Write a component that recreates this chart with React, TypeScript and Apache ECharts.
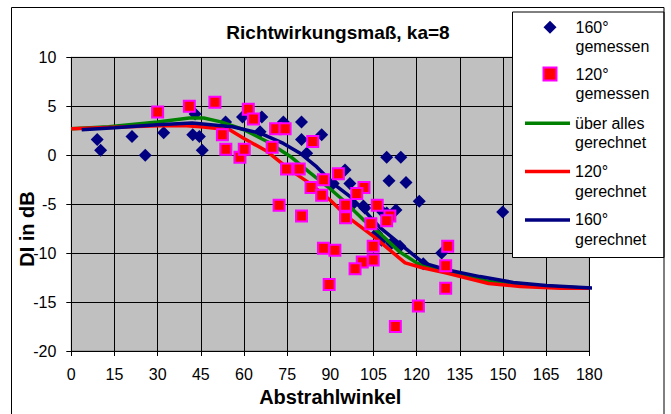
import React, { useEffect, useRef } from "react";
import * as echarts from "echarts";

// Measured 160° (diamonds): [angle, DI]
const measured160: [number, number][] = [
  [9.0, 1.6], [10.2, 0.5], [21.1, 1.9], [25.7, 0.0], [32.1, 2.3], [42.2, 2.1],
  [44.5, 1.9], [45.5, 0.5], [43.0, 4.2], [53.6, 3.4], [59.5, 3.9], [66.2, 3.9],
  [65.6, 2.4], [73.7, 3.4], [80.0, 3.4], [80.0, 1.6], [87.0, 2.1], [81.8, 0.2],
  [95.1, -1.5], [96.8, -2.9], [91.0, -2.9], [101.5, -5.2], [97.4, -5.1], [102.0, -5.4],
  [108.2, -5.8], [109.6, -5.9], [106.1, -8.0], [111.3, -9.0], [107.8, -8.7], [114.2, -9.3],
  [122.3, -11.1], [128.7, -10.0], [112.8, -5.6], [109.6, -0.2], [114.5, -0.2], [110.4, -2.6],
  [116.3, -2.8], [120.9, -4.7], [149.9, -5.8],
];

// Measured 120° (squares)
const measured120: [number, number][] = [
  [30.0, 4.4], [41.0, 5.0], [49.9, 5.4], [61.5, 4.7], [63.3, 3.7], [52.5, 2.1],
  [53.7, 0.6], [58.6, -0.2], [60.1, 0.6], [71.0, 2.7], [74.3, 2.7], [69.8, 0.8],
  [83.9, 1.4], [74.8, -1.4], [79.2, -1.4], [87.6, -2.5], [92.8, -1.9], [83.3, -3.3],
  [87.0, -4.1], [101.7, -3.3], [99.2, -3.9], [95.3, -5.1], [95.3, -6.4], [106.3, -5.1],
  [104.1, -7.0], [110.7, -6.2], [109.6, -6.7], [72.2, -5.1], [80.0, -6.2], [87.6, -9.5],
  [91.6, -9.7], [89.6, -13.2], [104.9, -9.3], [104.9, -10.7], [101.1, -10.9], [98.6, -11.6],
  [112.6, -17.5], [130.8, -9.3], [130.1, -11.3], [130.1, -13.6], [120.6, -15.4],
];

// Computed curves
const calcAll: [number, number][] = [
  [0, 2.7], [13, 2.9], [30, 3.4], [41, 3.8], [46, 3.8], [52, 3.4], [60, 2.6], [68, 1.4],
  [76, -0.1], [83, -1.8], [89, -3.2], [94.5, -4.6], [101.5, -6.6], [107.3, -8.0], [114, -9.85],
  [120, -11.0], [130, -11.9], [145, -12.9], [160, -13.3], [180, -13.6],
];
const calc120: [number, number][] = [
  [0, 2.7], [10, 2.8], [20, 2.9], [30, 3.0], [40, 3.0], [45, 2.9], [55, 2.6], [60, 1.7],
  [68, 0.4], [76, -1.5], [83, -2.9], [90, -4.6], [96, -6.3], [105, -8.3], [116, -11.0],
  [122, -11.5], [130, -12.0], [145, -13.1], [156, -13.4], [170, -13.6], [180, -13.6],
];
const calc160: [number, number][] = [
  [3.6, 2.6], [15, 2.8], [30, 3.1], [42, 3.3], [54, 2.95], [56, 2.9], [65.6, 2.25], [73.7, 1.2],
  [79.5, 0.2], [85.3, -1.2], [91, -2.9], [96.8, -4.2], [102.6, -5.9], [107.3, -7.4],
  [122.3, -11.0], [130.4, -11.7], [142, -12.4], [153.6, -13.0], [165, -13.3], [182.5, -13.6],
];

const markerNames = ["160° gemessen", "120° gemessen"];
const lineNames = ["über alles gerechnet", "120° gerechnet", "160° gerechnet"];

const FONT = '"Liberation Sans", Arial, sans-serif';

const twoLines = (name: string) => {
  const i = name.lastIndexOf(" ");
  return "\n" + name.slice(0, i) + "\n" + name.slice(i + 1);
};

export default function App() {
  const ref = useRef<HTMLDivElement>(null);
  useEffect(() => {
    if (!ref.current) return;
    const chart = echarts.init(ref.current, undefined, { renderer: "svg" });
    const lh = 19.6;
    const legendText = { fontSize: 16, color: "#000", lineHeight: lh, fontFamily: FONT };
    chart.setOption({
      animation: false,
      backgroundColor: "#ffffff",
      textStyle: { fontFamily: FONT },
      title: {
        text: "Richtwirkungsmaß, ka=8",
        left: 338,
        top: 23,
        padding: 0,
        textAlign: "center",
        textStyle: { fontSize: 19, fontWeight: "bold", color: "#000", fontFamily: FONT },
      },
      grid: {
        left: 71.3,
        top: 57.3,
        right: 81.7,
        bottom: 63,
        show: true,
        backgroundColor: "#C0C0C0",
        borderColor: "#808080",
        borderWidth: 1,
      },
      xAxis: {
        type: "value",
        min: 0,
        max: 180,
        interval: 15,
        name: "Abstrahlwinkel",
        nameLocation: "middle",
        nameGap: 34,
        nameTextStyle: { fontSize: 20, fontWeight: "bold", color: "#000", fontFamily: FONT },
        axisLine: { show: true, onZero: false, lineStyle: { color: "#000", width: 1 } },
        axisTick: { show: true, length: 5, lineStyle: { color: "#000" } },
        axisLabel: { fontSize: 16, color: "#000", margin: 15, fontFamily: FONT },
        splitLine: { show: true, lineStyle: { color: "#000", width: 1 } },
      },
      yAxis: {
        type: "value",
        min: -20,
        max: 10,
        interval: 5,
        axisLine: { show: true, onZero: false, lineStyle: { color: "#000", width: 1 } },
        axisTick: { show: true, length: 5, lineStyle: { color: "#000" } },
        axisLabel: { fontSize: 16, color: "#000", margin: 15, fontFamily: FONT },
        splitLine: { show: true, lineStyle: { color: "#000", width: 1 } },
      },
      legend: [
        {
          orient: "vertical",
          left: 542.5,
          top: 27.3 - 1.5 * lh,
          padding: 0,
          z: 10,
          itemWidth: 13,
          itemHeight: 13,
          itemGap: 46.7 - 3 * lh,
          data: [
            { name: markerNames[0], icon: "diamond" },
            { name: markerNames[1], icon: "rect" },
          ],
          formatter: twoLines,
          textStyle: { ...legendText, padding: [0, 0, 0, 14] },
        },
        {
          orient: "vertical",
          left: 525,
          top: 123.3 - 1.5 * lh,
          padding: 0,
          z: 10,
          itemWidth: 45,
          itemHeight: 3.5,
          itemGap: 48.3 - 3 * lh,
          data: lineNames.map((n) => ({ name: n, icon: "rect" })),
          formatter: twoLines,
          textStyle: legendText,
        },
      ],
      graphic: [
        {
          type: "rect",
          z: 100,
          silent: true,
          shape: { x: 11.5, y: 7.5, width: 652.5, height: 420 },
          style: { fill: "none", stroke: "#000", lineWidth: 1 },
        },
        {
          type: "rect",
          z: 5,
          silent: true,
          shape: { x: 512.5, y: 12, width: 151.5, height: 245.5 },
          style: { fill: "#fff", stroke: "#000", lineWidth: 1 },
        },
        {
          type: "text",
          x: 27,
          y: 229,
          rotation: Math.PI / 2,
          style: {
            text: "DI in dB",
            align: "center",
            verticalAlign: "middle",
            fontSize: 20,
            fontWeight: "bold",
            fill: "#000",
            fontFamily: FONT,
          },
        },
      ],
      series: [
        {
          name: markerNames[0],
          type: "scatter",
          z: 2,
          symbol: "diamond",
          symbolSize: 13,
          itemStyle: { color: "#000080", opacity: 1 },
          data: measured160,
        },
        {
          name: markerNames[1],
          type: "scatter",
          z: 4,
          symbol: "rect",
          symbolSize: 11,
          itemStyle: { color: "#FF0000", borderColor: "#FF00FF", borderWidth: 2, opacity: 1 },
          data: measured120,
        },
        {
          name: lineNames[0],
          type: "line",
          z: 3,
          symbol: "none",
          clip: false,
          lineStyle: { color: "#008000", width: 3.5 },
          itemStyle: { color: "#008000" },
          data: calcAll,
        },
        {
          name: lineNames[1],
          type: "line",
          z: 3,
          symbol: "none",
          clip: false,
          lineStyle: { color: "#FF0000", width: 3.5 },
          itemStyle: { color: "#FF0000" },
          data: calc120,
        },
        {
          name: lineNames[2],
          type: "line",
          z: 3,
          symbol: "none",
          clip: false,
          lineStyle: { color: "#000080", width: 3.5 },
          itemStyle: { color: "#000080" },
          data: calc160,
        },
      ],
    });
    return () => chart.dispose();
  }, []);
  return (
    <div
      ref={ref}
      style={{ position: "fixed", left: 0, top: 0, width: 671, height: 414 }}
    />
  );
}
